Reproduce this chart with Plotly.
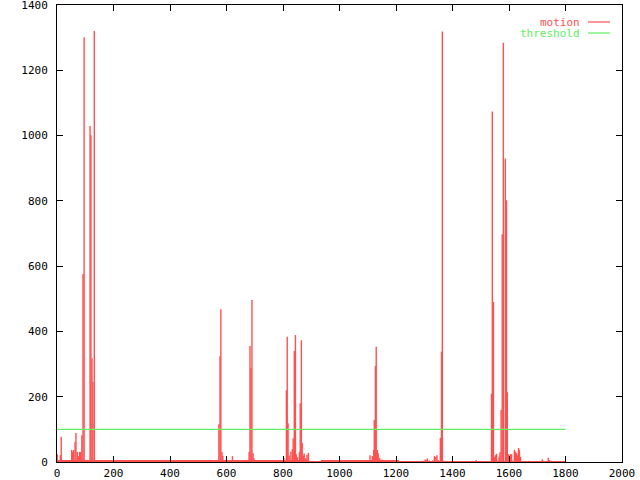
import plotly.graph_objects as go

# ---- data ----
# isolated impulses: frame number and motion value
peak_frames = [1, 12, 15, 52, 55, 59, 64, 67, 72, 76, 80, 84, 88, 92, 96, 117, 120, 124, 127, 132,
               573, 577, 580, 584, 587, 600, 621, 680, 683, 687, 690, 694, 697,
               803, 812, 815, 818, 822, 828, 833, 836, 840, 844, 847, 851, 858, 861, 865, 868, 872, 875, 880, 885, 890,
               1108, 1116, 1121, 1123, 1127, 1130, 1134, 1137, 1142, 1150,
               1291, 1303, 1307, 1311, 1318, 1330, 1336, 1341, 1345, 1350, 1357, 1361, 1364, 1368, 1484,
               1538, 1541, 1545, 1549, 1552, 1556, 1560, 1565, 1568, 1572, 1576, 1580, 1587, 1591, 1594,
               1598, 1602, 1605, 1609, 1612, 1619, 1623, 1627, 1630, 1634, 1637, 1641, 1670,
               1718, 1722, 1739, 1743, 1750]
peak_values = [24, 21, 77, 37, 31, 37, 61, 89, 31, 18, 31, 31, 82, 576, 1301, 1029, 1001, 318, 245, 1320,
               116, 324, 468, 31, 18, 8, 18, 31, 355, 289, 496, 27, 12,
               12, 220, 384, 119, 20, 32, 40, 73, 340, 389, 24, 15, 30, 180, 373, 58, 20, 26, 12, 22, 28,
               21, 18, 37, 129, 294, 353, 37, 27, 12, 8,
               4, 8, 6, 11, 5, 5, 18, 15, 21, 6, 74, 338, 1319, 4, 6,
               209, 1074, 490, 15, 21, 25, 4, 16, 30, 159, 698, 1284, 930, 802, 214,
               24, 10, 24, 24, 4, 37, 32, 27, 20, 43, 37, 15, 4,
               8, 4, 13, 6, 4]

# low background noise level of the motion series, as (start, end, level) segments
base_start = [0, 890, 935, 1210]
base_end = [890, 935, 1210, 1800]
base_level = [7, 2, 7, 2]

threshold_x = [0, 1800]
threshold_y = [100, 100]

x_ticks = [0, 200, 400, 600, 800, 1000, 1200, 1400, 1600, 1800, 2000]
y_ticks = [0, 200, 400, 600, 800, 1000, 1200, 1400]

RED = "#ff5050"
GREEN = "#60f060"
FONT = "DejaVu Sans Mono"

fig = go.Figure()

# background noise band
fig.add_trace(go.Bar(
    x=[(s + e) / 2 for s, e in zip(base_start, base_end)],
    width=[e - s for s, e in zip(base_start, base_end)],
    y=base_level,
    marker=dict(color=RED, line=dict(width=0)),
    showlegend=False, hoverinfo="skip"))

# impulses
ix, iy = [], []
for f, v in zip(peak_frames, peak_values):
    ix += [f, f, None]
    iy += [0, v, None]
fig.add_trace(go.Scatter(x=ix, y=iy, mode="lines",
                         line=dict(color=RED, width=1.4), showlegend=False, hoverinfo="skip"))

# threshold
fig.add_trace(go.Scatter(x=threshold_x, y=threshold_y, mode="lines",
                         line=dict(color=GREEN, width=1.2), showlegend=False, hoverinfo="skip"))

L, R, T, B = 57, 622, 5, 462
W, H = 640, 480


def px(xp):
    return (xp - L) / (R - L)


def py(yp):
    return (B - yp) / (B - T)


# legend (gnuplot style: text then sample line)
for label, color, ypix in [("motion", RED, 22), ("threshold", GREEN, 33)]:
    fig.add_annotation(x=px(581), y=py(ypix), xref="paper", yref="paper",
                       text=label, showarrow=False, xanchor="right", yanchor="middle",
                       borderpad=0, height=10, valign="middle",
                       font=dict(family=FONT, size=11, color=color))
    fig.add_shape(type="line", xref="paper", yref="paper",
                  x0=px(588), x1=px(610), y0=py(ypix), y1=py(ypix),
                  line=dict(color=color, width=1.2))

axis_common = dict(showline=True, linecolor="black", linewidth=1, mirror="allticks",
                   ticks="inside", ticklen=6, tickcolor="black", tickwidth=1,
                   showgrid=False, zeroline=False, automargin=False,
                   tickfont=dict(family=FONT, size=11, color="black"))

fig.update_layout(
    width=W, height=H,
    margin=dict(l=L, r=W - R, t=T, b=H - B, autoexpand=False),
    paper_bgcolor="white", plot_bgcolor="white",
    bargap=0,
    xaxis=dict(range=[0, 2000], tickvals=x_ticks, ticktext=[str(v) for v in x_ticks],
               ticklabelstandoff=1, ticklabeloverflow="allow", **axis_common),
    yaxis=dict(range=[0, 1400.01], tickvals=y_ticks, ticktext=[str(v) for v in y_ticks],
               ticklabelstandoff=6, ticklabeloverflow="allow", **axis_common),
)

fig.write_html("out.html", config={"displayModeBar": False},
               post_script="document.body.style.margin='0';document.body.style.padding='0';")
